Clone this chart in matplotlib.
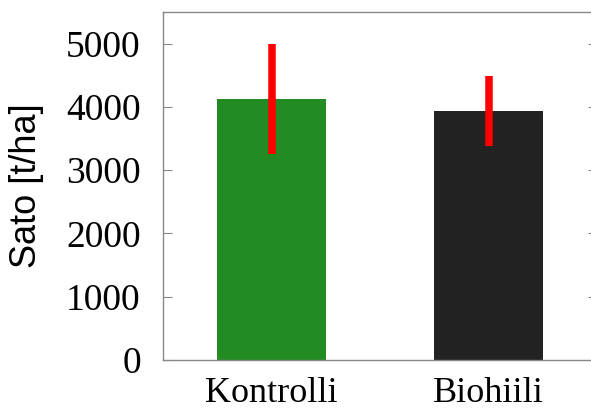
import matplotlib
matplotlib.use("Agg")
import matplotlib.pyplot as plt

# Yield per treatment with error half-widths
categories = ["Kontrolli", "Biohiili"]
yields = [4120, 3935]
errors = [870, 550]
bar_colors = ["#228b22", "#222222"]
y_ticks = [0, 1000, 2000, 3000, 4000, 5000]

fig = plt.figure(figsize=(5.91, 4.13), dpi=100)
ax = fig.add_axes([163 / 591, 53 / 413, (597 - 163) / 591, (360 - 12) / 413])

x = list(range(len(categories)))
ax.bar(x, yields, width=0.5, color=bar_colors, zorder=2)
ax.errorbar(x, yields, yerr=errors, fmt="none", ecolor="#ff0000",
            elinewidth=5.4, capsize=0, zorder=3)

ax.set_xlim(-0.5, 1.5)
ax.set_ylim(0, 5500)
ax.set_yticks(y_ticks)
ax.set_xticks(x)
ax.set_xticklabels(categories)

serif = ["Liberation Serif", "DejaVu Serif"]
for lab in ax.get_yticklabels():
    lab.set_fontfamily(serif)
    lab.set_fontsize(27)
for lab in ax.get_xticklabels():
    lab.set_fontfamily(serif)
    lab.set_fontsize(26)

ax.set_ylabel("Sato [t/ha]", fontsize=26, family=["Liberation Sans", "DejaVu Sans"])
ax.yaxis.set_label_coords(-0.275, 0.5)

for s in ax.spines.values():
    s.set_color("#888888")
    s.set_linewidth(1.0)

ax.tick_params(axis="y", which="both", direction="in", length=6.5, width=0.8,
               color="#888888", left=True, right=True, pad=16)
ax.tick_params(axis="x", which="both", length=0, pad=12)

fig.savefig("out.png", dpi=100)
